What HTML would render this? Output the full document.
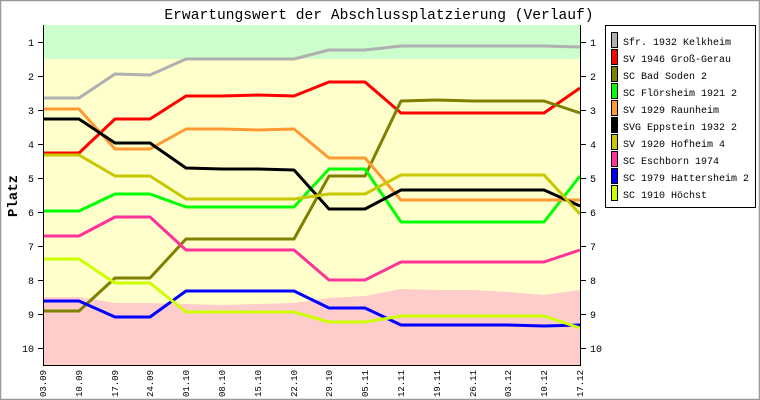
<!DOCTYPE html>
<html><head><meta charset="utf-8"><style>
html,body{margin:0;padding:0;background:#fff}
svg{display:block}
text{font-family:"Liberation Mono","DejaVu Sans Mono",monospace;fill:#000}
</style></head><body>
<svg width="760" height="400" viewBox="0 0 760 400" xmlns="http://www.w3.org/2000/svg">
<rect x="0.5" y="0.5" width="759" height="399" fill="#fff" stroke="#999" stroke-width="1.5"/>
<text x="379" y="19" font-size="14.6" text-anchor="middle">Erwartungswert der Abschlussplatzierung (Verlauf)</text>
<rect x="43" y="25" width="537" height="340" fill="#ffffcc"/>
<rect x="43" y="25" width="537" height="34" fill="#ccffcc"/>
<polygon fill="#ffcccc" points="43,297 79,297 115,303 150,303 186,304 222,305 258,304 294,303 315,300 329,298 365,296 401,289 437,290 473,290 508,292 544,295 580,290 580,365 43,365"/>
<g fill="none" stroke-width="3" stroke-linejoin="round">
<polyline stroke="#b0b0b0" points="43,98 79,98 115,74 150,75 186,59 222,59 258,59 294,59 329,50 365,50 401,46 437,46 473,46 508,46 544,46 580,47"/>
<polyline stroke="#ff0000" points="43,153 79,153 115,119 150,119 186,96 222,96 258,95 294,96 329,82 365,82 401,113 437,113 473,113 508,113 544,113 580,88"/>
<polyline stroke="#808000" points="43,311 79,311 115,278 150,278 186,239 222,239 258,239 294,239 329,176 365,176 401,101 437,100 473,101 508,101 544,101 580,113"/>
<polyline stroke="#00ff00" points="43,211 79,211 115,194 150,194 186,207 222,207 258,207 294,207 329,169 365,169 401,222 437,222 473,222 508,222 544,222 580,176"/>
<polyline stroke="#ff9933" points="43,109 79,109 115,149 150,149 186,129 222,129 258,130 294,129 329,158 365,158 401,200 437,200 473,200 508,200 544,200 580,200"/>
<polyline stroke="#000000" points="43,119 79,119 115,143 150,143 186,168 222,169 258,169 294,170 329,209 365,209 401,190 437,190 473,190 508,190 544,190 580,206"/>
<polyline stroke="#c8c800" points="43,155 79,155 115,176 150,176 186,199 222,199 258,199 294,199 329,194 365,194 401,175 437,175 473,175 508,175 544,175 580,214"/>
<polyline stroke="#ff3399" points="43,236 79,236 115,217 150,217 186,250 222,250 258,250 294,250 329,280 365,280 401,262 437,262 473,262 508,262 544,262 580,250"/>
<polyline stroke="#0000ff" points="43,301 79,301 115,317 150,317 186,291 222,291 258,291 294,291 329,308 365,308 401,325 437,325 473,325 508,325 544,326 580,325"/>
<polyline stroke="#ccff00" points="43,259 79,259 115,283 150,283 186,312 222,312 258,312 294,312 329,322 365,322 401,316 437,316 473,316 508,316 544,316 580,328"/>
</g>
<g stroke="#000" stroke-width="1">
<line x1="43.5" y1="25" x2="43.5" y2="365"/>
<line x1="580.5" y1="25" x2="580.5" y2="365"/>
<line x1="43" y1="365.5" x2="581" y2="365.5"/>
<path d="M38,42.5h5M38,76.5h5M38,110.5h5M38,144.5h5M38,178.5h5M38,212.5h5M38,246.5h5M38,280.5h5M38,314.5h5M38,348.5h5"/>
<path d="M580,42.5h6M580,76.5h6M580,110.5h6M580,144.5h6M580,178.5h6M580,212.5h6M580,246.5h6M580,280.5h6M580,314.5h6M580,348.5h6"/>
</g>
<g font-size="10" text-anchor="end">
<text x="34" y="46">1</text><text x="34" y="80">2</text><text x="34" y="114">3</text><text x="34" y="148">4</text><text x="34" y="182">5</text><text x="34" y="216">6</text><text x="34" y="250">7</text><text x="34" y="284">8</text><text x="34" y="318">9</text><text x="34" y="352">10</text>
</g>
<g font-size="10">
<text x="590" y="46">1</text><text x="590" y="80">2</text><text x="590" y="114">3</text><text x="590" y="148">4</text><text x="590" y="182">5</text><text x="590" y="216">6</text><text x="590" y="250">7</text><text x="590" y="284">8</text><text x="590" y="318">9</text><text x="590" y="352">10</text>
</g>
<text x="0" y="0" font-size="14" font-weight="bold" transform="translate(17,196) rotate(-90)" text-anchor="middle">Platz</text>
<g font-size="9" text-anchor="end">
<text transform="translate(46,370) rotate(-90)">03.09</text>
<text transform="translate(82,370) rotate(-90)">10.09</text>
<text transform="translate(118,370) rotate(-90)">17.09</text>
<text transform="translate(153,370) rotate(-90)">24.09</text>
<text transform="translate(189,370) rotate(-90)">01.10</text>
<text transform="translate(225,370) rotate(-90)">08.10</text>
<text transform="translate(261,370) rotate(-90)">15.10</text>
<text transform="translate(297,370) rotate(-90)">22.10</text>
<text transform="translate(332,370) rotate(-90)">29.10</text>
<text transform="translate(368,370) rotate(-90)">05.11</text>
<text transform="translate(404,370) rotate(-90)">12.11</text>
<text transform="translate(440,370) rotate(-90)">19.11</text>
<text transform="translate(476,370) rotate(-90)">26.11</text>
<text transform="translate(511,370) rotate(-90)">03.12</text>
<text transform="translate(547,370) rotate(-90)">10.12</text>
<text transform="translate(583,370) rotate(-90)">17.12</text>
</g>
<rect x="605.5" y="25.5" width="150" height="182" fill="#fff" stroke="#000"/>
<g stroke="#000" stroke-width="1">
<rect x="611.5" y="32.5" width="6" height="15" fill="#b0b0b0"/>
<rect x="611.5" y="49.5" width="6" height="15" fill="#ff0000"/>
<rect x="611.5" y="66.5" width="6" height="15" fill="#808000"/>
<rect x="611.5" y="83.5" width="6" height="15" fill="#00ff00"/>
<rect x="611.5" y="100.5" width="6" height="15" fill="#ff9933"/>
<rect x="611.5" y="117.5" width="6" height="15" fill="#000000"/>
<rect x="611.5" y="134.5" width="6" height="15" fill="#c8c800"/>
<rect x="611.5" y="151.5" width="6" height="15" fill="#ff3399"/>
<rect x="611.5" y="168.5" width="6" height="15" fill="#0000ff"/>
<rect x="611.5" y="185.5" width="6" height="15" fill="#ccff00"/>
</g>
<g font-size="10">
<text x="623" y="45">Sfr. 1932 Kelkheim</text>
<text x="623" y="62">SV 1946 Groß-Gerau</text>
<text x="623" y="79">SC Bad Soden 2</text>
<text x="623" y="96">SC Flörsheim 1921 2</text>
<text x="623" y="113">SV 1929 Raunheim</text>
<text x="623" y="130">SVG Eppstein 1932 2</text>
<text x="623" y="147">SV 1920 Hofheim 4</text>
<text x="623" y="164">SC Eschborn 1974</text>
<text x="623" y="181">SC 1979 Hattersheim 2</text>
<text x="623" y="198">SC 1910 Höchst</text>
</g>
</svg>
</body></html>
